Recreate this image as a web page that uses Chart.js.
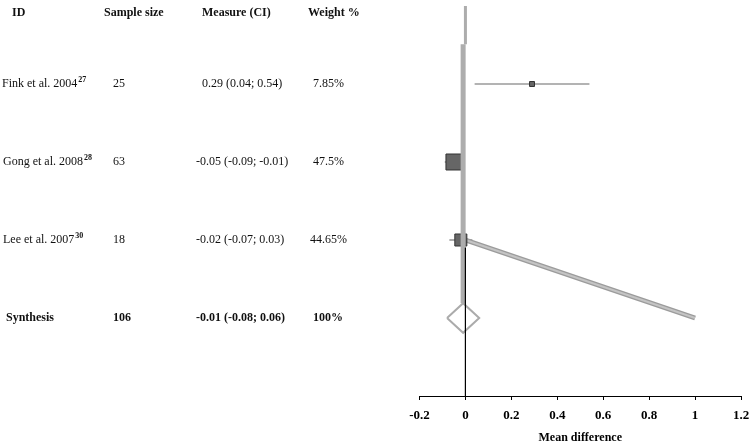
<!DOCTYPE html>
<html><head><meta charset="utf-8">
<script src="https://cdn.jsdelivr.net/npm/chart.js@4/dist/chart.umd.min.js"></script>
<style>html,body{margin:0;padding:0;background:#fff}#wrap{width:750px;height:444px;position:relative}</style>
</head><body><div id="wrap"><canvas id="c"></canvas></div>
<script>
// ---- data ----
const headers = ['ID', 'Sample size', 'Measure (CI)', 'Weight %'];
const studies = ['Fink et al. 2004', 'Gong et al. 2008', 'Lee et al. 2007'];
const refs = ['27', '28', '30'];
const sampleSizes = [25, 63, 18];
const means = [0.29, -0.05, -0.02];
const ciLow = [0.04, -0.09, -0.07];
const ciHigh = [0.54, -0.01, 0.03];
const weights = [7.85, 47.5, 44.65];
const synthesisLabel = 'Synthesis';
const synthesisN = 106;
const synthesisMean = -0.01;
const synthesisLow = -0.08;
const synthesisHigh = 0.06;
const synthesisWeight = 100;
const xTicks = [-0.2, 0, 0.2, 0.4, 0.6, 0.8, 1, 1.2];
const xTitle = 'Mean difference';
// stray connector line visible in the original (from Lee's row to x=1 on the synthesis row)
const strayX = [0, 1];
const strayRow = [3, 4];

// ---- styles ----
const squareRadius = [3.5, 11.3, 8.5];
const diamondHalf = 0.19;
const rows = studies.map((_, i) => i + 1);
const synthRow = studies.length + 1;

const datasets = [];
// gray vertical reference line (top thin part, then thick part down to diamond)
datasets.push({data: [{x: 0, y: 0}, {x: 0, y: 0.49}], borderColor: '#adadad', borderWidth: 3, order: 1});
datasets.push({data: [{x: synthesisMean, y: 0.49}, {x: synthesisMean, y: synthRow - diamondHalf}], borderColor: '#adadad', borderWidth: 5, order: 1});
// black zero line (lower visible part)
datasets.push({data: [{x: 0, y: 3.1}, {x: 0, y: 5}], borderColor: '#000', borderWidth: 1, order: 0});
// CI lines
studies.forEach((s, i) => {
  datasets.push({data: [{x: ciLow[i], y: rows[i]}, {x: ciHigh[i], y: rows[i]}], borderColor: '#9a9a9a', borderWidth: 1.6, order: 5});
});
// stray diagonal
datasets.push({data: strayX.map((x, i) => ({x, y: strayRow[i]})), borderColor: '#9c9c9c', borderWidth: 5, order: 4});
datasets.push({data: strayX.map((x, i) => ({x, y: strayRow[i]})), borderColor: '#c4c4c4', borderWidth: 2, order: 3.5});
// squares
datasets.push({
  showLine: false,
  data: means.map((m, i) => ({x: m, y: rows[i]})),
  pointStyle: 'rect', pointRadius: squareRadius,
  backgroundColor: '#666', borderColor: '#333', borderWidth: 1, order: 2
});
// diamond
datasets.push({
  data: [
    {x: synthesisLow, y: synthRow}, {x: synthesisMean, y: synthRow - diamondHalf},
    {x: synthesisHigh, y: synthRow}, {x: synthesisMean, y: synthRow + diamondHalf},
    {x: synthesisLow, y: synthRow}
  ],
  borderColor: '#ababab', borderWidth: 2, order: 1.5
});
datasets.forEach(d => {
  if (d.showLine === undefined) d.showLine = true;
  if (d.pointRadius === undefined) d.pointRadius = 0;
  d.fill = false;
  d.tension = 0;
  d.clip = false;
});

const tablePlugin = {
  id: 'table',
  afterDraw(chart) {
    const ctx = chart.ctx, ys = chart.scales.y;
    const font = (b, s) => (b ? 'bold ' : '') + s + 'px "Liberation Serif", "Times New Roman", serif';
    ctx.save();
    ctx.fillStyle = '#111';
    ctx.textBaseline = 'middle';
    ctx.font = font(true, 12);
    const hx = [12, 104, 202, 308];
    headers.forEach((h, i) => ctx.fillText(h, hx[i], 13));
    const idX = [2, 3, 3];
    const mx = m => m < 0 ? 196 : 202;
    studies.forEach((s, i) => {
      const y = ys.getPixelForValue(rows[i]);
      ctx.font = font(false, 12);
      ctx.fillText(s, idX[i], y);
      const w = ctx.measureText(s).width;
      ctx.font = font(true, 8);
      ctx.fillText(refs[i], idX[i] + w + 1, y - 4);
      ctx.font = font(false, 12);
      ctx.fillText(String(sampleSizes[i]), 113, y);
      ctx.fillText(means[i].toFixed(2) + ' (' + ciLow[i].toFixed(2) + '; ' + ciHigh[i].toFixed(2) + ')', mx(means[i]), y);
      ctx.fillText(weights[i] + '%', String(weights[i]).length > 4 ? 310 : 313, y);
    });
    const y = ys.getPixelForValue(synthRow);
    ctx.font = font(true, 12);
    ctx.fillText(synthesisLabel, 6, y);
    ctx.fillText(String(synthesisN), 113, y);
    ctx.fillText(synthesisMean.toFixed(2) + ' (' + synthesisLow.toFixed(2) + '; ' + synthesisHigh.toFixed(2) + ')', 196, y);
    ctx.fillText(synthesisWeight + '%', 313, y);
    ctx.restore();
  }
};

new Chart(document.getElementById('c'), {
  type: 'scatter',
  data: {datasets},
  options: {
    responsive: true, maintainAspectRatio: false, animation: false,
    layout: {autoPadding: false, padding: {left: 419.5, right: 9, top: 6, bottom: 0}},
    plugins: {legend: {display: false}, tooltip: {enabled: false}},
    scales: {
      x: {
        type: 'linear', min: -0.2, max: 1.2,
        afterBuildTicks: s => { s.ticks = xTicks.map(v => ({value: v})); },
        afterFit: s => { s.height = 48; s.paddingLeft = 0; s.paddingRight = 0; },
        ticks: {
          autoSkip: false, maxRotation: 0, padding: 8, color: '#000',
          font: {family: '"Liberation Serif", serif', size: 13, weight: 'bold'},
          callback: v => String(v)
        },
        grid: {display: true, drawOnChartArea: false, drawTicks: true, tickLength: 4, color: '#000', lineWidth: 1},
        border: {display: true, color: '#000', width: 1},
        title: {display: true, text: xTitle, color: '#000', padding: {top: 0, bottom: 0},
          font: {family: '"Liberation Serif", serif', size: 12, weight: 'bold', lineHeight: 1}}
      },
      y: {type: 'linear', min: 0, max: 5, reverse: true, display: false}
    }
  },
  plugins: [tablePlugin]
});
</script></body></html>
